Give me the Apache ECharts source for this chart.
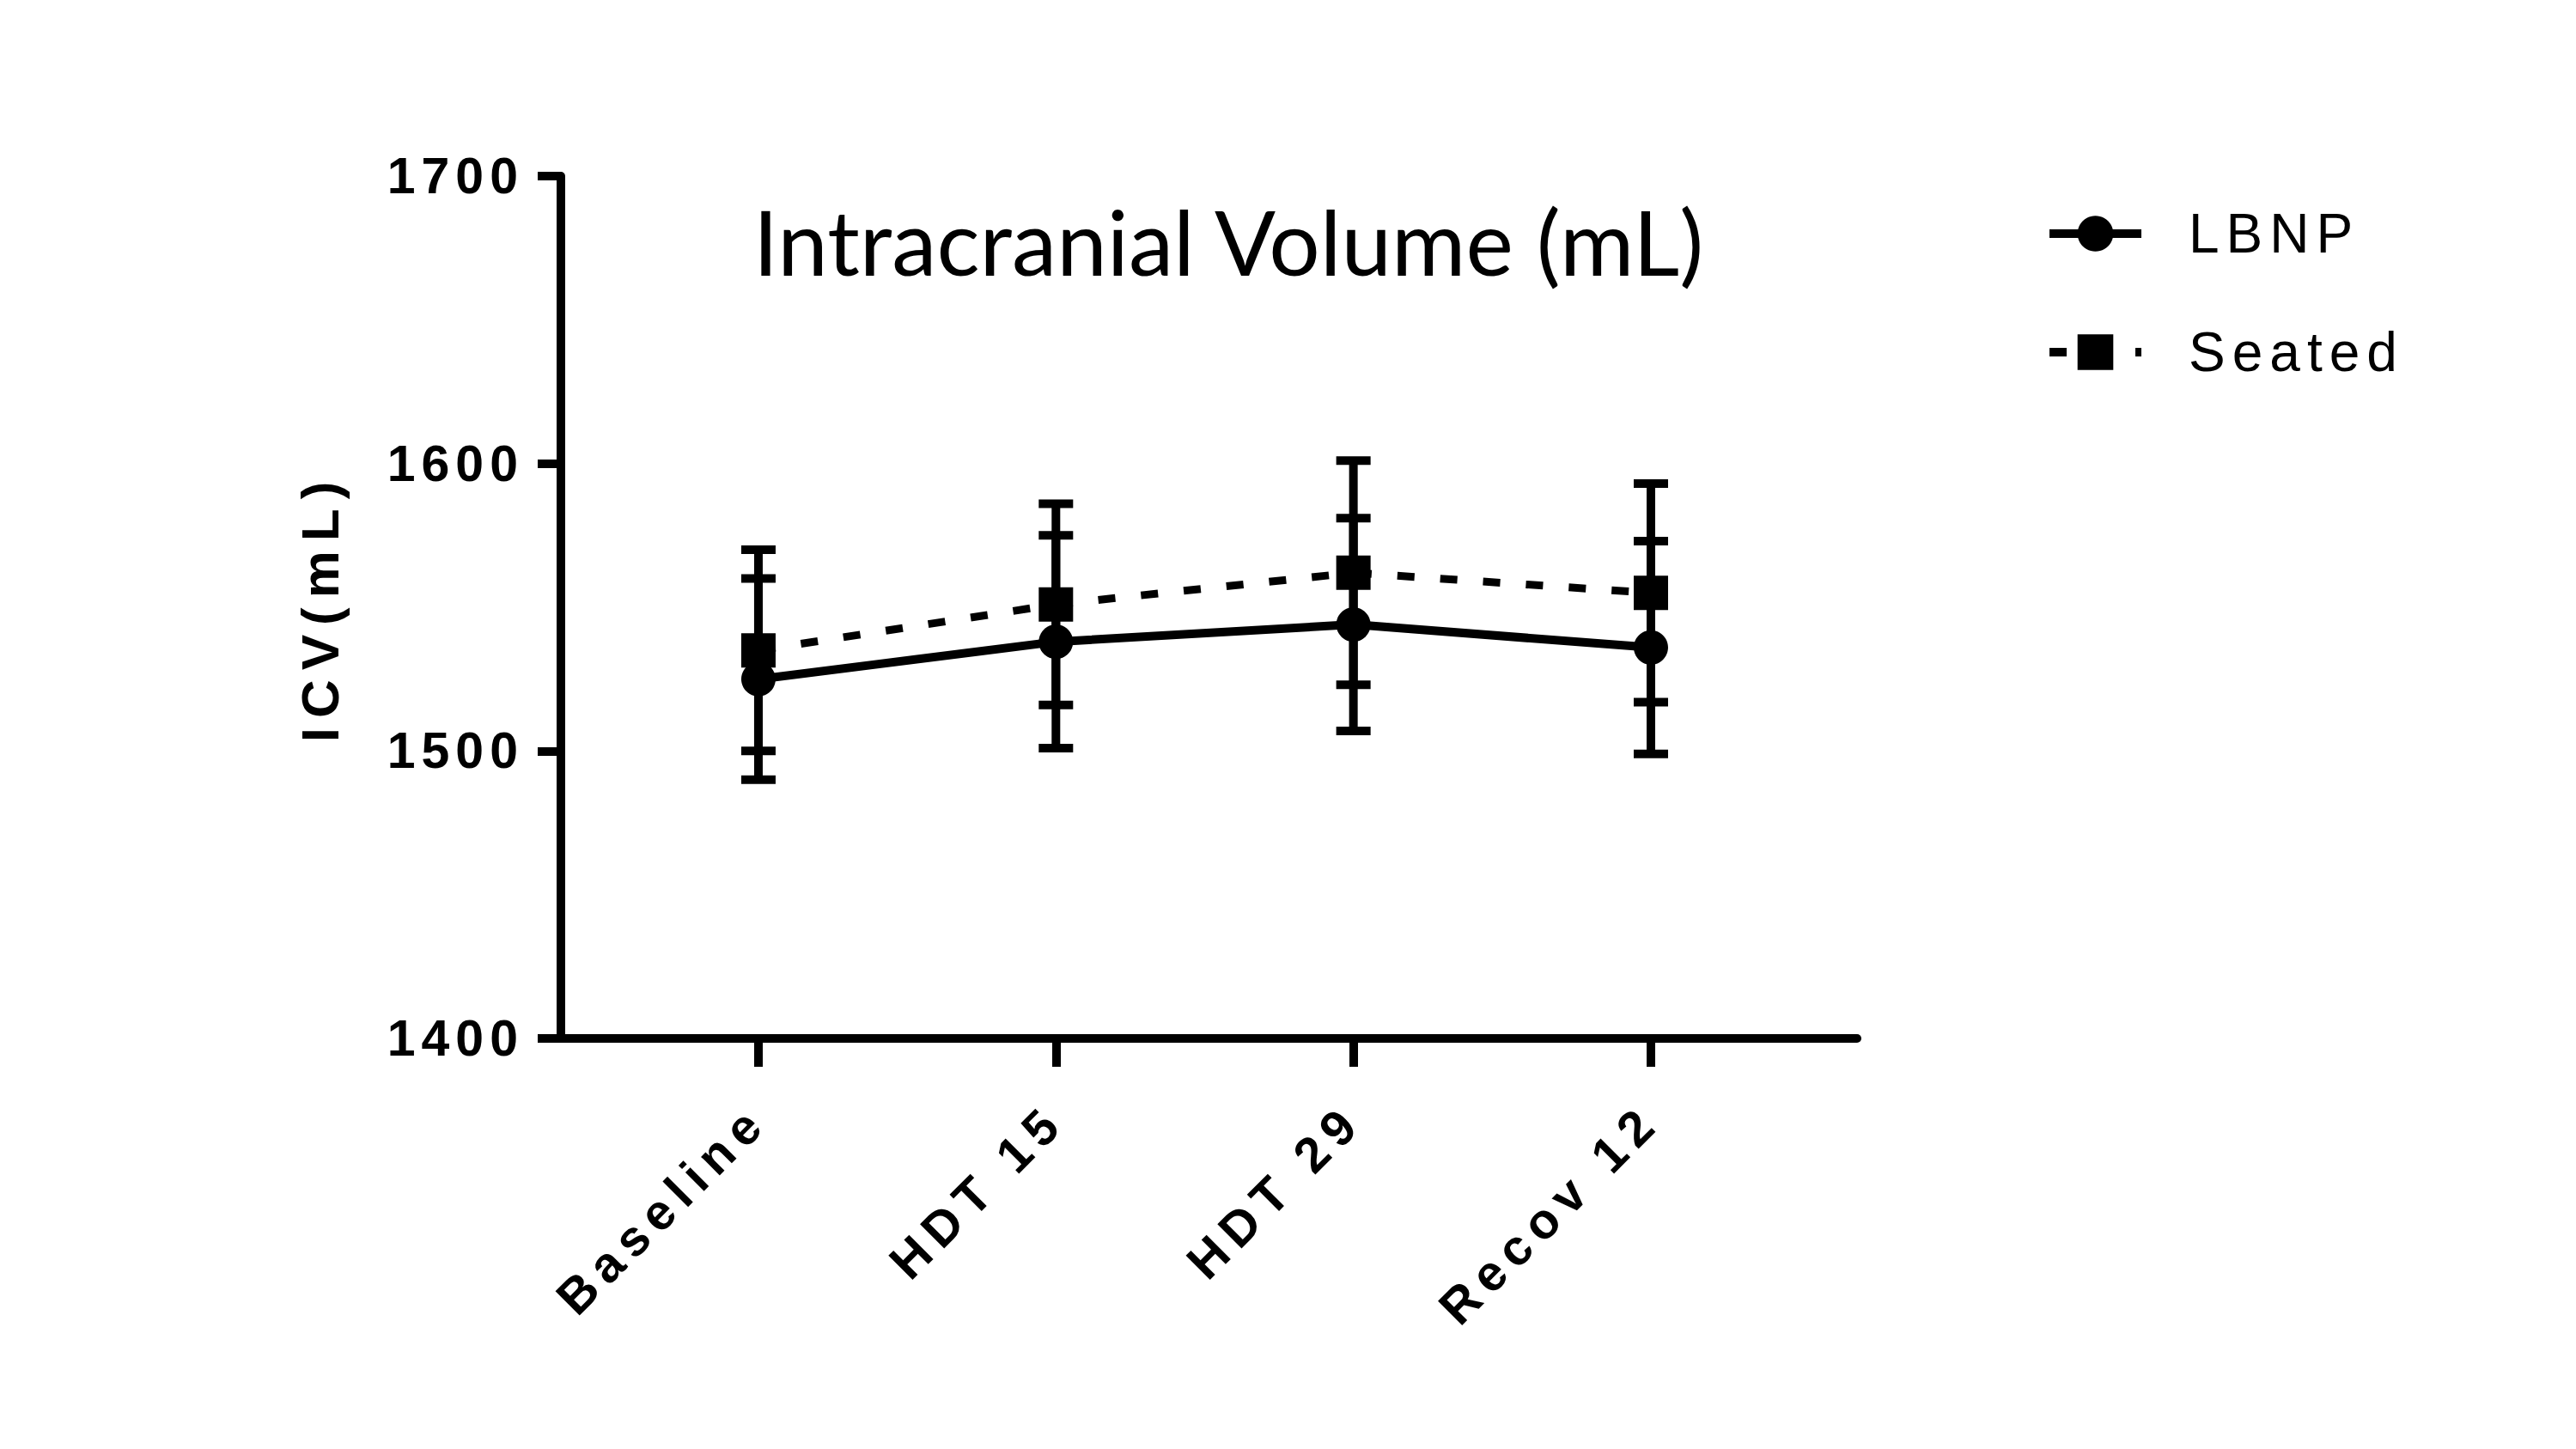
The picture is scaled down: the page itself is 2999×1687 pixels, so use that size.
<!DOCTYPE html>
<html>
<head>
<meta charset="utf-8">
<style>
  html, body { margin: 0; padding: 0; background: #fff; }
  #main { width: 2999px; height: 1687px; }
</style>
<script src="https://cdn.jsdelivr.net/npm/echarts@6/dist/echarts.min.js"></script>
</head>
<body>
<div id="main"></div>
<script>
var categories = ['Baseline', 'HDT 15', 'HDT 29', 'Recov 12'];
var lbnpMean = [1525, 1538, 1544, 1536];
var lbnpSd = [35, 37, 37, 37];
var seatedMean = [1535, 1551, 1562, 1555];
var seatedSd = [35, 35, 39, 38];
var yTicks = [1400, 1500, 1600, 1700];

var labelFont = "'Liberation Sans', Arial, sans-serif";

function points(mean) {
    return mean.map(function (v, i) { return [i, v]; });
}
function errorBars(mean, sd) {
    return mean.map(function (v, i) { return [i, v - sd[i], v + sd[i]]; });
}

// whisker with caps at both ends
function renderBar(params, api) {
    var lo = api.coord([api.value(0), api.value(1)]);
    var hi = api.coord([api.value(0), api.value(2)]);
    var half = 20;
    var st = { stroke: '#000', lineWidth: 10 };
    return {
        type: 'group',
        children: [
            { type: 'line', shape: { x1: lo[0], y1: lo[1], x2: hi[0], y2: hi[1] }, style: st },
            { type: 'line', shape: { x1: lo[0] - half, y1: lo[1], x2: lo[0] + half, y2: lo[1] }, style: st },
            { type: 'line', shape: { x1: hi[0] - half, y1: hi[1], x2: hi[0] + half, y2: hi[1] }, style: st }
        ]
    };
}

var dom = document.getElementById('main');
var myChart = echarts.init(dom, null, { renderer: 'svg' });

var option = {
    animation: false,
    backgroundColor: '#fff',
    title: {
        text: 'Intracranial Volume (mL)',
        left: 1425,
        top: 222,
        textAlign: 'center',
        textStyle: { fontFamily: 'Lato', fontWeight: 'normal', fontSize: 105, color: '#000' }
    },
    legend: {
        orient: 'vertical',
        left: 2381,
        top: 240,
        padding: 0,
        itemWidth: 107,
        itemHeight: 52,
        itemGap: 74,
        selectedMode: false,
        data: ['LBNP', 'Seated'],
        lineStyle: { width: 10 },
        textStyle: { fontFamily: labelFont, fontSize: 64, color: '#000', padding: [0, 0, 0, 50] }
    },
    grid: { left: 653, right: 837, top: 205, bottom: 478 },
    xAxis: {
        type: 'value',
        min: -0.664,
        max: 3.693,
        splitLine: { show: false },
        axisLine: { onZero: false, lineStyle: { color: '#000', width: 10 } },
        axisTick: { length: 33, lineStyle: { color: '#000', width: 10 }, customValues: [0, 1, 2, 3] },
        axisLabel: {
            customValues: [0, 1, 2, 3],
            rotate: 45,
            margin: 86,
            fontFamily: labelFont,
            fontWeight: 'bold',
            fontSize: 58,
            color: '#000',
            formatter: function (v) { return categories[Math.round(v)]; }
        }
    },
    yAxis: {
        type: 'value',
        min: 1400,
        max: 1700,
        interval: 100,
        name: 'ICV(mL)',
        nameLocation: 'middle',
        nameRotate: 90,
        nameGap: 250,
        nameTextStyle: { fontFamily: labelFont, fontWeight: 'bold', fontSize: 62, color: '#000' },
        splitLine: { show: false },
        axisLine: { onZero: false, lineStyle: { color: '#000', width: 10 } },
        axisTick: { length: 27, lineStyle: { color: '#000', width: 10 } },
        axisLabel: {
            margin: 43,
            fontFamily: labelFont,
            fontWeight: 'bold',
            fontSize: 59,
            color: '#000',
            formatter: function (v) { return String(v); }
        }
    },
    series: [
        {
            name: 'LBNP err',
            type: 'custom',
            renderItem: renderBar,
            data: errorBars(lbnpMean, lbnpSd),
            z: 2
        },
        {
            name: 'Seated err',
            type: 'custom',
            renderItem: renderBar,
            data: errorBars(seatedMean, seatedSd),
            z: 2
        },
        {
            name: 'LBNP',
            type: 'line',
            data: points(lbnpMean),
            symbol: 'circle',
            symbolSize: 40,
            itemStyle: { color: '#000' },
            lineStyle: { color: '#000', width: 10 },
            z: 3
        },
        {
            name: 'Seated',
            type: 'line',
            data: points(seatedMean),
            symbol: 'rect',
            symbolSize: 40,
            itemStyle: { color: '#000' },
            lineStyle: { color: '#000', width: 9, type: [20, 30] },
            z: 3
        }
    ]
};

myChart.setOption(option);

// wide tracking like the original figure
var spacing = { 'ICV(mL)': 11, 'LBNP': 8, 'Seated': 8 };
categories.forEach(function (c) { spacing[c] = 10; });
yTicks.forEach(function (t) { spacing[String(t)] = 7; });

function applySpacing() {
    var texts = dom.querySelectorAll('svg text');
    for (var i = 0; i < texts.length; i++) {
        var s = spacing[texts[i].textContent];
        if (s) texts[i].style.letterSpacing = s + 'px';
    }
}
myChart.on('finished', applySpacing);
applySpacing();
</script>
</body>
</html>
